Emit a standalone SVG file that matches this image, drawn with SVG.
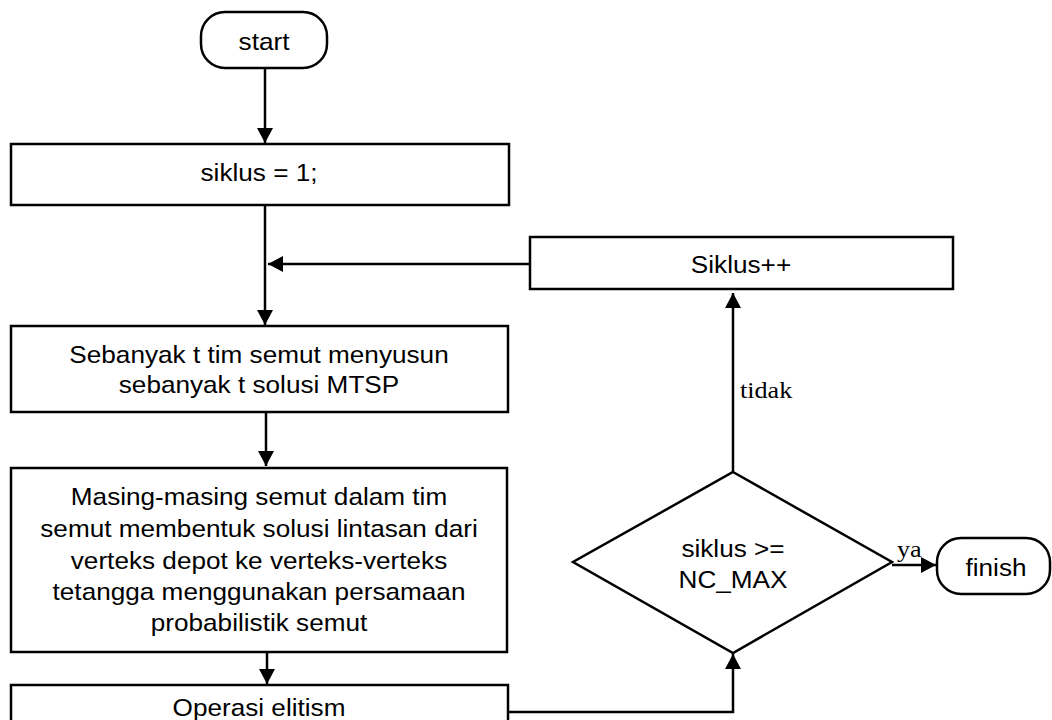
<svg xmlns="http://www.w3.org/2000/svg" width="1052" height="720" viewBox="0 0 1052 720">
<defs>
<marker id="arr" markerUnits="userSpaceOnUse" markerWidth="15" markerHeight="16" viewBox="0 0 15 16" refX="15" refY="8" orient="auto">
<path d="M0,0 L15,8 L0,16 z" fill="#000"/>
</marker>
<style>
.box{fill:#fff;stroke:#000;stroke-width:2.5}
.ln{fill:none;stroke:#000;stroke-width:2.5}
.t{font-family:"Liberation Sans",Arial,sans-serif;font-size:24px;fill:#000;text-anchor:middle}
.s{font-family:"Liberation Serif","Times New Roman",serif;font-size:24px;fill:#000}
</style>
</defs>
<rect width="1052" height="720" fill="#fff"/>
<g id="connectors">
<path class="ln" d="M265,68 L265,143" marker-end="url(#arr)"/>
<path class="ln" d="M265,205 L265,325" marker-end="url(#arr)"/>
<path class="ln" d="M530,264 L268,264" marker-end="url(#arr)"/>
<path class="ln" d="M266,412 L266,466" marker-end="url(#arr)"/>
<path class="ln" d="M267,652 L267,684" marker-end="url(#arr)"/>
<path class="ln" d="M508,712 L733,712 L733,654" marker-end="url(#arr)"/>
<path class="ln" d="M733,472 L733,293" marker-end="url(#arr)"/>
<path class="ln" d="M892,565 L936,565" marker-end="url(#arr)"/>
<text class="s" transform="matrix(1.09 0 0 1 740 398)">tidak</text>
<text class="s" transform="matrix(1.09 0 0 1 897 557)">ya</text>
</g>
<g id="start">
<rect class="box" x="201" y="12" width="126" height="56" rx="24"/>
<text class="t" transform="matrix(1.09 0 0 1 264 50)">start</text>
</g>
<g id="init">
<rect class="box" x="11" y="144" width="498" height="61"/>
<text class="t" transform="matrix(1.09 0 0 1 259 181)">siklus = 1;</text>
</g>
<g id="build">
<rect class="box" x="11" y="326" width="497" height="86"/>
<text class="t" transform="matrix(1.09 0 0 1 259 363)">Sebanyak t tim semut menyusun</text>
<text class="t" transform="matrix(1.09 0 0 1 259 393)">sebanyak t solusi MTSP</text>
</g>
<g id="construct">
<rect class="box" x="11" y="468" width="496" height="184"/>
<text class="t" transform="matrix(1.09 0 0 1 259 505)">Masing-masing semut dalam tim</text>
<text class="t" transform="matrix(1.09 0 0 1 259 537)">semut membentuk solusi lintasan dari</text>
<text class="t" transform="matrix(1.09 0 0 1 259 569)">verteks depot ke verteks-verteks</text>
<text class="t" transform="matrix(1.09 0 0 1 259 600)">tetangga menggunakan persamaan</text>
<text class="t" transform="matrix(1.09 0 0 1 259 631)">probabilistik semut</text>
</g>
<g id="elitism">
<rect class="box" x="11" y="685" width="497" height="60"/>
<text class="t" transform="matrix(1.09 0 0 1 259 716)">Operasi elitism</text>
</g>
<g id="decision">
<path class="box" d="M733,472 L892,562 L733,653 L573,562 Z"/>
<text class="t" transform="matrix(1.09 0 0 1 733 557)">siklus &gt;=</text>
<text class="t" transform="matrix(1.09 0 0 1 733 588)">NC_MAX</text>
</g>
<g id="increment">
<rect class="box" x="530" y="237" width="423" height="52"/>
<text class="t" transform="matrix(1.09 0 0 1 741 273)">Siklus++</text>
</g>
<g id="finish">
<rect class="box" x="937" y="538" width="113" height="56" rx="24"/>
<text class="t" transform="matrix(1.09 0 0 1 996 576)">finish</text>
</g>
</svg>
